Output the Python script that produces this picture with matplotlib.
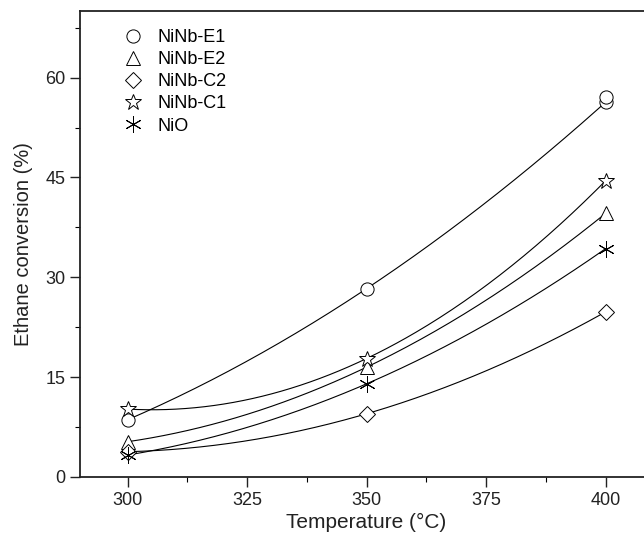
import matplotlib
matplotlib.use("Agg")
import matplotlib.pyplot as plt
import numpy as np
from matplotlib.ticker import MultipleLocator

plt.rcParams['font.family'] = ['Liberation Sans', 'DejaVu Sans']

# donnees
temperature = [300, 350, 400]
noms = ["NiNb-E1", "NiNb-E2", "NiNb-C2", "NiNb-C1", "NiO"]
marqueurs = ["o", "^", "D", "*", (6, 2, 0)]
tailles = [9.5, 10.5, 8, 12, 12]
conversion = {
    "NiNb-E1": [8.6, 28.3, 56.3],
    "NiNb-E2": [5.3, 16.5, 39.6],
    "NiNb-C2": [3.8, 9.5, 24.8],
    "NiNb-C1": [10.2, 17.8, 44.5],
    "NiO": [3.3, 14.0, 34.3],
}
# point supplementaire pour NiNb-E1 a 400 C
e1_extra_t = [400]
e1_extra_v = [57.1]

fig = plt.figure(figsize=(6.44, 5.38), dpi=100)
ax = fig.add_axes([0.124, 0.1134, 0.8905, 0.866])

t_fin = np.linspace(300, 400, 200)
for nom, m, s in zip(noms, marqueurs, tailles):
    v = conversion[nom]
    coef = np.polyfit(temperature, v, 2)     # courbe lissee
    ax.plot(t_fin, np.polyval(coef, t_fin), color="black", lw=0.8, zorder=1)
    mk = dict(marker=m, markersize=s, markerfacecolor="white", markeredgecolor="black",
              markeredgewidth=0.7, linestyle="none", zorder=2)
    if m == (6, 2, 0):
        mk["markerfacecolor"] = "black"
    ax.plot(temperature, v, label=nom, **mk)
    if nom == "NiNb-E1":
        ax.plot(e1_extra_t, e1_extra_v, **mk)

ax.set_xlim(290, 410)
ax.set_ylim(0, 70)
ax.set_xticks([300, 325, 350, 375, 400])
ax.set_yticks([0, 15, 30, 45, 60])
ax.xaxis.set_minor_locator(MultipleLocator(12.5))
ax.yaxis.set_minor_locator(MultipleLocator(7.5))
ax.tick_params(which="major", direction="out", length=7, width=1, labelsize=13, colors="#222222")
ax.tick_params(which="minor", direction="out", length=3.5, width=0.8)
for sp in ax.spines.values():
    sp.set_linewidth(1.3)
    sp.set_color("#222222")

ax.set_xlabel("Temperature (°C)", fontsize=15, color="#222222", labelpad=3)
ax.set_ylabel("Ethane conversion (%)", fontsize=14.5, color="#222222", labelpad=9)

ax.legend(loc="upper left", bbox_to_anchor=(0.052, 0.988), frameon=False, fontsize=13,
          handletextpad=0.75, labelspacing=0.28, handlelength=1.2, borderpad=0.2)

plt.savefig("out.png", dpi=100)
